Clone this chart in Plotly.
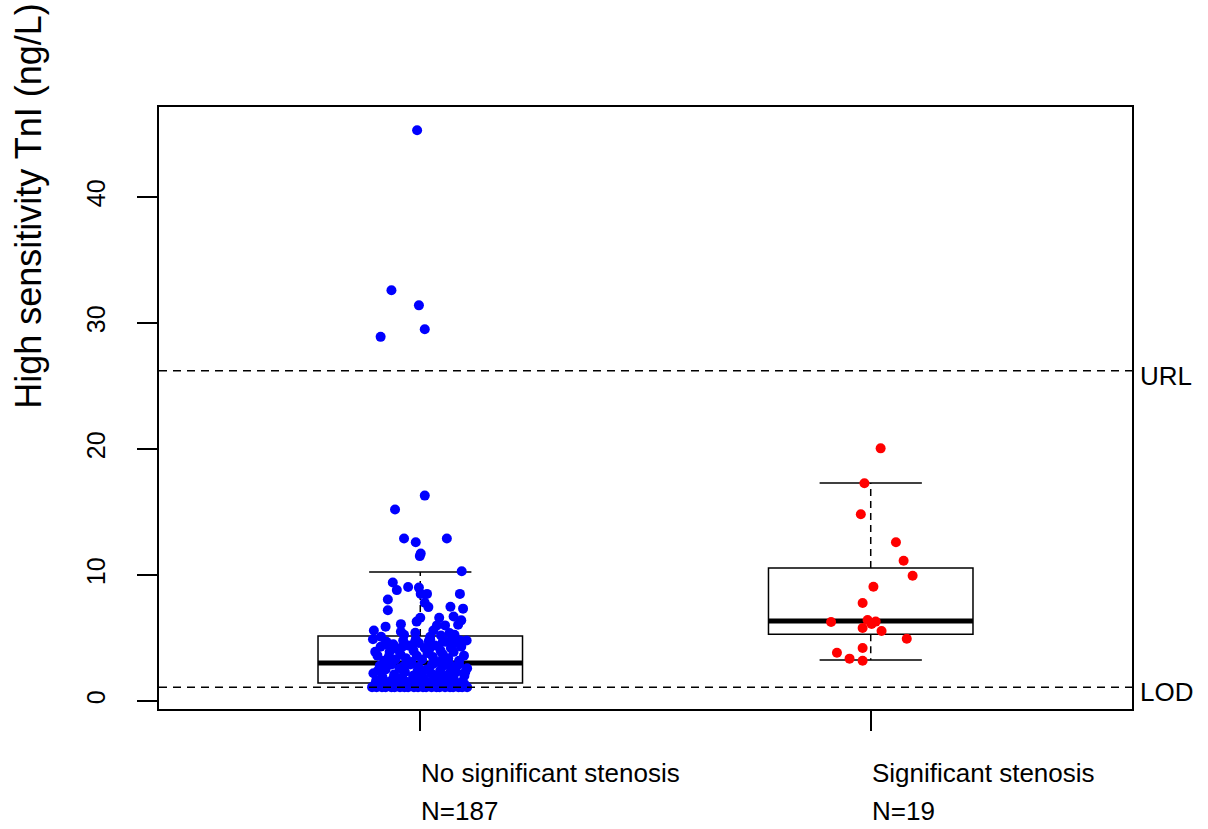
import plotly.graph_objects as go

# ---------------- data ----------------
groups = ["No significant stenosis", "Significant stenosis"]
group_n = ["N=187", "N=19"]
group_pos = [1, 2]

ref_names = ["URL", "LOD"]
ref_values = [26.2, 1.1]

# box statistics: lower whisker, Q1, median, Q3, upper whisker
whisker_lo = [1.1, 3.25]
q1 = [1.43, 5.3]
median = [3.02, 6.35]
q3 = [5.16, 10.56]
whisker_hi = [10.24, 17.3]

# group 1 (blue) values and horizontal jitter offsets
blue_values = [
    45.3, 32.6, 31.4, 29.5, 28.9,
    16.3, 15.2, 12.9, 12.6, 12.9, 11.5, 11.7, 10.3,
    9.4, 8.8, 9.05, 9.0, 8.5, 8.5, 8.5, 8.05, 7.8, 7.45, 7.48, 7.33, 7.2,
    6.6, 6.3, 6.6, 6.7, 6.4, 6.05, 6.1, 5.6, 5.9, 5.5, 5.42, 6.0, 6.0,
    5.6, 5.4, 5.25, 5.1, 5.25, 5.1, 5.2, 4.8,
    4.5, 4.5, 4.6, 4.75, 4.7,
    4.9, 3.6, 4.3, 3.2, 4.7, 3.9, 4.5, 3.3, 4.1, 3.7, 4.8, 3.4, 4.4, 3.1,
    4.0, 3.6, 4.6, 3.3, 4.2, 3.8, 4.9, 3.5, 4.4, 3.1, 4.0, 3.7, 4.7, 3.4,
    4.2, 3.9, 4.6, 3.2, 4.3, 3.6, 4.8, 3.9, 3.5, 4.3, 4.9, 4.1, 3.2, 4.9,
    2.2, 1.6, 2.8, 1.9, 2.5, 1.5, 2.9, 2.1, 1.7, 2.6, 1.9, 2.3, 1.5, 2.9,
    2.0, 1.6, 2.7, 2.2, 1.8, 2.5, 1.5, 2.9, 2.0, 1.7, 2.4, 2.8, 1.6, 2.1,
    2.6, 1.8, 2.3, 2.9, 1.5, 2.0, 2.6, 2.4, 1.8, 2.8, 2.4, 2.2, 1.9, 2.7,
    2.3, 3.0, 3.0, 3.0, 3.0,
    1.1, 1.1, 1.1, 1.1, 1.1, 1.1, 1.1, 1.1, 1.1, 1.1, 1.1, 1.1, 1.1, 1.1,
    1.1, 1.1, 1.1, 1.1, 1.1, 1.1, 1.1, 1.1,
    1.3, 1.2, 1.35, 1.25, 1.4, 1.2, 1.3, 1.4, 1.2, 1.35, 1.25, 1.4, 1.2,
    1.3, 1.4, 1.2, 1.3, 1.4, 1.25, 1.35, 1.4, 1.25, 1.35, 1.2,
]
blue_jitter = [
    -0.007, -0.064, -0.003, 0.010, -0.088,
    0.010, -0.056, -0.036, -0.010, 0.059, -0.001, 0.001, 0.092,
    -0.061, -0.052, -0.027, -0.003, 0.001, 0.015, 0.088, -0.072, 0.010, 0.018, 0.067, 0.095, -0.072,
    0.000, -0.008, 0.042, 0.074, 0.091, 0.084, -0.043, -0.103, -0.077, -0.043, -0.011, 0.037, 0.055,
    0.029, 0.065, 0.076, -0.087, -0.036, 0.022, 0.046, 0.089,
    -0.078, -0.036, -0.013, 0.019, 0.050,
    -0.105, -0.095, -0.088, -0.080, -0.075, -0.068, -0.060, -0.055, -0.050, -0.044, -0.038, -0.032, -0.027, -0.020,
    -0.015, -0.008, -0.003, 0.004, 0.010, 0.016, 0.022, 0.028, 0.033, 0.040, 0.045, 0.050, 0.056, 0.062,
    0.068, 0.074, 0.080, 0.086, 0.091, 0.097, 0.103, -0.100, -0.070, -0.040, -0.010, 0.020, 0.050, 0.070,
    -0.104, -0.098, -0.090, -0.084, -0.077, -0.071, -0.064, -0.058, -0.052, -0.046, -0.040, -0.034, -0.028, -0.022,
    -0.016, -0.010, -0.004, 0.002, 0.008, 0.014, 0.020, 0.026, 0.032, 0.038, 0.044, 0.050, 0.056, 0.062,
    0.068, 0.074, 0.080, 0.086, 0.092, 0.098, 0.104, -0.094, -0.060, -0.036, -0.006, 0.024, 0.046, 0.078,
    0.100, -0.080, 0.030, 0.064, -0.020,
    -0.107, -0.097, -0.085, -0.077, -0.064, -0.057, -0.045, -0.035, -0.027, -0.014, -0.005, 0.006, 0.013, 0.025,
    0.036, 0.043, 0.055, 0.066, 0.073, 0.085, 0.093, 0.104,
    -0.101, -0.090, -0.072, -0.060, -0.050, -0.040, -0.030, -0.018, -0.009, 0.000, 0.010, 0.019, 0.030,
    0.040, 0.049, 0.059, 0.070, 0.079, 0.089, 0.098, -0.082, -0.023, 0.035, 0.080,
]

# group 2 (red) values and horizontal jitter offsets
red_values = [20.05, 17.28, 14.82, 12.6, 11.13, 9.94, 9.07, 7.78, 6.27, 6.43,
              6.11, 5.79, 5.56, 4.94, 4.2, 3.83, 3.36, 3.2, 6.3]
red_jitter = [0.022, -0.014, -0.022, 0.056, 0.073, 0.093, 0.006, -0.018, -0.088, -0.007,
              0.002, -0.018, 0.024, 0.080, -0.018, -0.075, -0.047, -0.018, 0.011]

point_colors = ["#0000FF", "#FF0000"]

# ---------------- figure ----------------
FONT = "Liberation Sans, Arial, sans-serif"
fig = go.Figure()

BOX_HALF = 0.227
CAP_HALF = 0.1135
LW = 1.5
DASH = "7px,5px"

shapes = []
for i, p in enumerate(group_pos):
    # box
    shapes.append(dict(type="rect", xref="x", yref="y", x0=p - BOX_HALF, x1=p + BOX_HALF,
                       y0=q1[i], y1=q3[i], line=dict(color="black", width=LW),
                       fillcolor="rgba(0,0,0,0)", layer="below"))
    # median
    shapes.append(dict(type="line", xref="x", yref="y", x0=p - BOX_HALF, x1=p + BOX_HALF,
                       y0=median[i], y1=median[i], line=dict(color="black", width=5), layer="below"))
    # whiskers (dashed)
    shapes.append(dict(type="line", xref="x", yref="y", x0=p, x1=p, y0=q3[i], y1=whisker_hi[i],
                       line=dict(color="black", width=LW, dash=DASH), layer="below"))
    shapes.append(dict(type="line", xref="x", yref="y", x0=p, x1=p, y0=q1[i], y1=whisker_lo[i],
                       line=dict(color="black", width=LW, dash=DASH), layer="below"))
    # caps
    for w in (whisker_hi[i], whisker_lo[i]):
        shapes.append(dict(type="line", xref="x", yref="y", x0=p - CAP_HALF, x1=p + CAP_HALF,
                           y0=w, y1=w, line=dict(color="black", width=LW), layer="below"))

# reference lines (drawn over the points)
for v in ref_values:
    shapes.append(dict(type="line", xref="paper", yref="y", x0=0, x1=1, y0=v, y1=v,
                       line=dict(color="black", width=LW, dash="8px,6px"), layer="above"))

fig.add_trace(go.Scatter(
    x=[group_pos[0] + j for j in blue_jitter], y=blue_values, mode="markers",
    marker=dict(color=point_colors[0], size=10, line=dict(width=0)),
    showlegend=False, hoverinfo="y"))
fig.add_trace(go.Scatter(
    x=[group_pos[1] + j for j in red_jitter], y=red_values, mode="markers",
    marker=dict(color=point_colors[1], size=10, line=dict(width=0)),
    showlegend=False, hoverinfo="y"))

annotations = []
for p, name, n in zip(group_pos, groups, group_n):
    annotations.append(dict(x=p, y=0, xref="x", yref="paper", text=name, showarrow=False,
                            xanchor="left", yanchor="middle", yshift=-64, xshift=-1,
                            font=dict(family=FONT, size=26, color="black")))
    annotations.append(dict(x=p, y=0, xref="x", yref="paper", text=n, showarrow=False,
                            xanchor="left", yanchor="middle", yshift=-102, xshift=-1,
                            font=dict(family=FONT, size=26, color="black")))
for name, v in zip(ref_names, ref_values):
    annotations.append(dict(x=1, y=v, xref="paper", yref="y", text=name, showarrow=False,
                            xanchor="left", yanchor="middle", xshift=6, yshift=-5,
                            font=dict(family=FONT, size=26, color="black")))
annotations.append(dict(x=-0.1336, y=0.836, xref="paper", yref="paper",
                        text="High sensitivity TnI (ng/L)", showarrow=False, textangle=-90,
                        xanchor="center", yanchor="middle",
                        font=dict(family=FONT, size=36, color="black")))

fig.update_layout(
    width=1208, height=829,
    margin=dict(l=159, r=76, t=107, b=120),
    paper_bgcolor="white", plot_bgcolor="white",
    shapes=shapes, annotations=annotations,
    font=dict(family=FONT, color="black"),
    xaxis=dict(range=[0.42, 2.58], showgrid=False, zeroline=False,
               showline=True, mirror=True, linecolor="black", linewidth=LW,
               ticks="outside", tickvals=group_pos, ticklen=20, tickwidth=LW,
               tickcolor="black", showticklabels=False),
    yaxis=dict(range=[-0.635, 47.14], showgrid=False, zeroline=False,
               showline=True, mirror=True, linecolor="black", linewidth=LW,
               ticks="outside", tickvals=[0, 10, 20, 30, 40], ticklen=20, tickwidth=LW,
               tickcolor="black", tickangle=-90, ticklabelstandoff=22,
               tickfont=dict(family=FONT, size=25, color="black")),
)

fig.write_html("out.html")
